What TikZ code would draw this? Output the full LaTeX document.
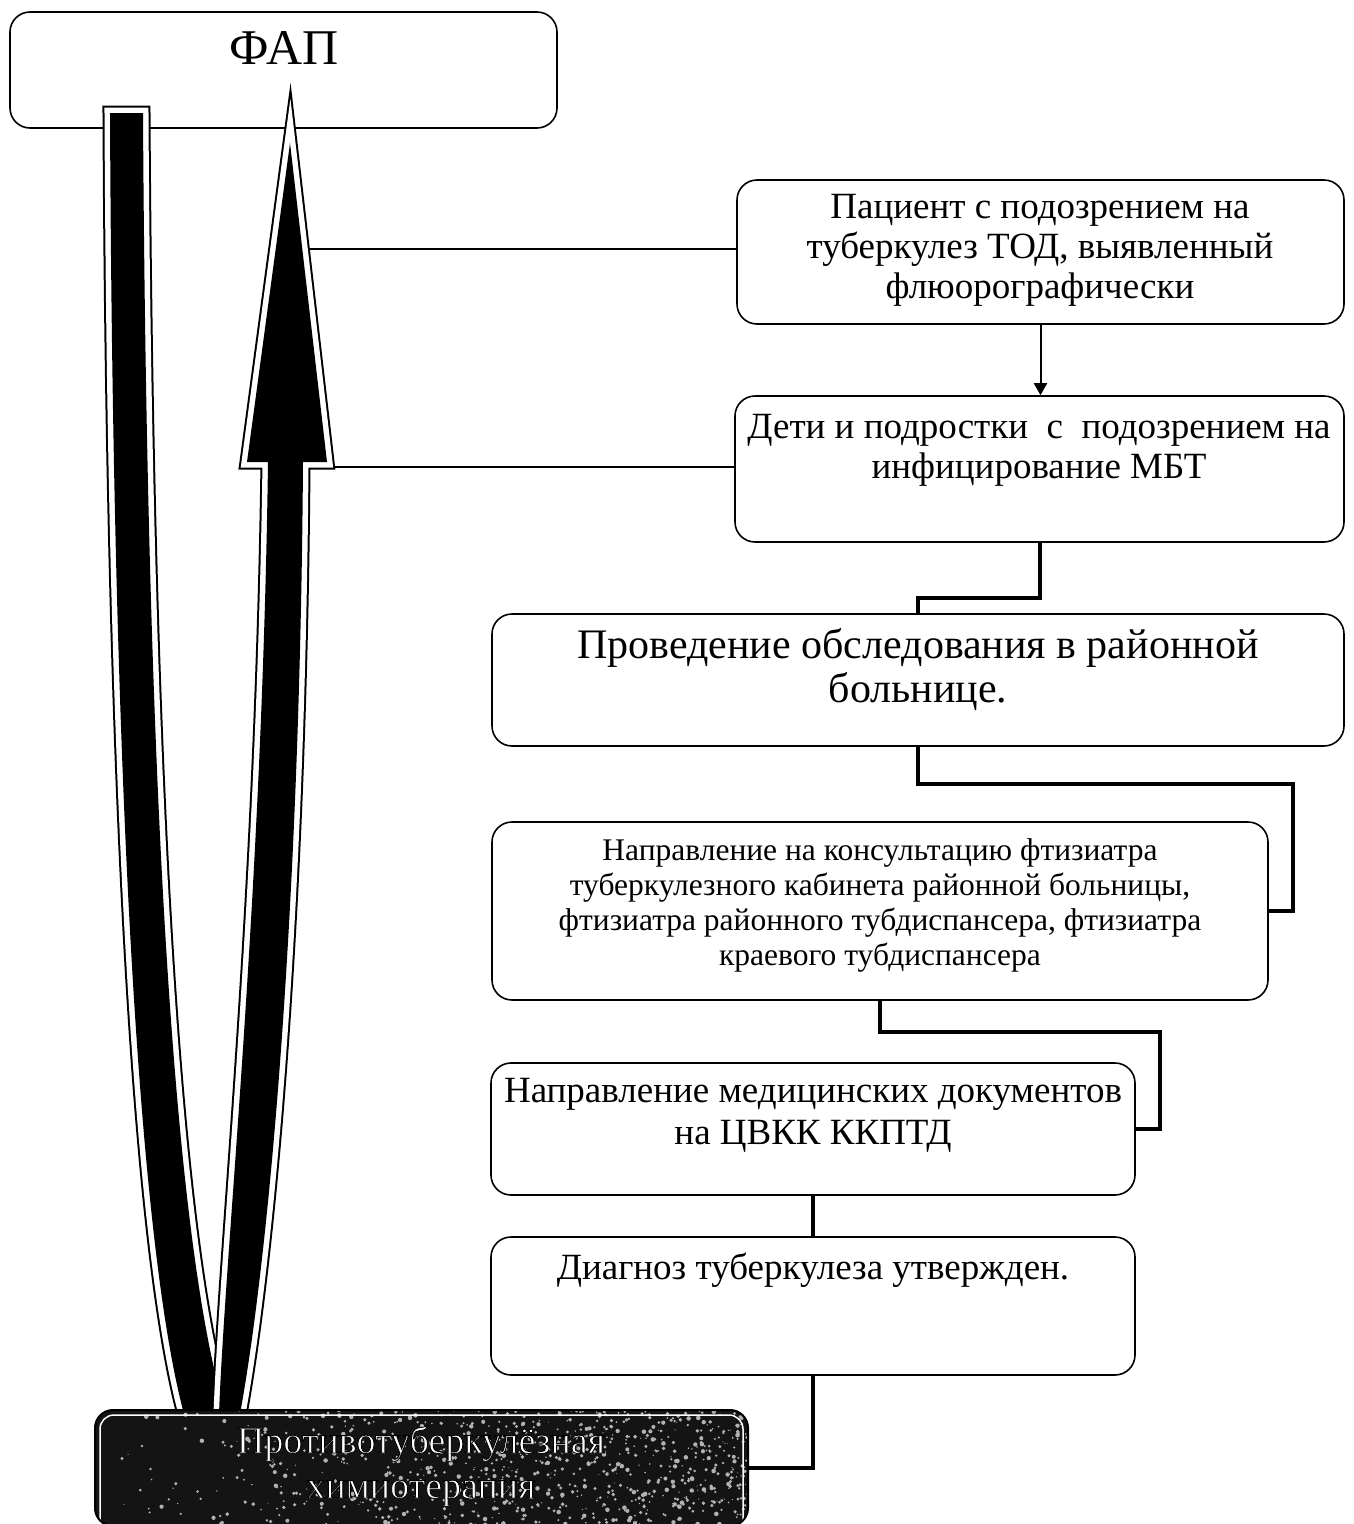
\documentclass[tikz,border=0pt]{standalone}
\usepackage{fontspec}
\setmainfont{Liberation Serif}
\usetikzlibrary{arrows.meta,calc}
\newcommand{\outlinetext}[1]{\special{pdf:literal direct 2 Tr 0.8 w 0 G}#1\special{pdf:literal direct 0 Tr}}
\begin{document}
\begin{tikzpicture}[x=1pt,y=-1pt,
  box/.style={draw, line width=1.6pt, rounded corners=20pt, inner sep=0pt},
  txt/.style={align=center, inner sep=0pt},
  conn/.style={line width=4pt, line join=miter},
  thinconn/.style={line width=2pt},
  armline/.style={line width=15pt, draw=black, line join=miter, miter limit=14},
  armband/.style={line width=11pt, draw=white, line join=miter, miter limit=14},
  armfill/.style={fill=black}]
\useasboundingbox[fill=white] (0,0) rectangle (1354,1524);

% boxes
\node[box, minimum width=547pt, minimum height=116pt] (b1) at (283.5,70) {};
\node[txt, font=\fontsize{50}{56}\selectfont] (t1) at (284,48) {ФАП};

\node[box, minimum width=607pt, minimum height=144pt] (b2) at (1040.5,252) {};
\node[txt, font=\fontsize{37}{40}\selectfont] (t2) at (1040,250) {Пациент с подозрением на\\туберкулез ТОД, выявленный\\флюорографически};

\node[box, minimum width=609pt, minimum height=146pt] (b3) at (1039.5,469) {};
\node[txt, font=\fontsize{37}{40}\selectfont] (t3) at (1039,450) {Дети и подростки\ \ с\ \ подозрением на\\инфицирование МБТ};

\node[box, minimum width=852pt, minimum height=132pt] (b4) at (918,680) {};
\node[txt, font=\fontsize{42}{44}\selectfont] (t4) at (918,670) {Проведение обследования в районной\\больнице.};

\node[box, minimum width=776pt, minimum height=178pt] (b5) at (880,911) {};
\node[txt, font=\fontsize{31.5}{35}\selectfont] (t5) at (880,905) {Направление на консультацию фтизиатра\\туберкулезного кабинета районной больницы,\\фтизиатра районного тубдиспансера, фтизиатра\\краевого тубдиспансера};

\node[box, minimum width=644pt, minimum height=132pt] (b6) at (813,1129) {};
\node[txt, font=\fontsize{37}{42}\selectfont] (t6) at (813,1115) {Направление медицинских документов\\на ЦВКК ККПТД};

\node[box, minimum width=644pt, minimum height=138pt] (b7) at (813,1306) {};
\node[txt, font=\fontsize{37}{42}\selectfont] (t7) at (813,1270) {Диагноз туберкулеза утвержден.};

% connectors between boxes
\draw[thinconn, -{Triangle[width=13pt,length=12pt]}] (b2.south) -- (b2.south |- b3.north);
\draw[conn] (b3.south) -- (b3.south |- 0,598) -| (b4.north);
\draw[conn] (b4.south) -- (b4.south |- 0,784) -- (1293,784) |- (b5.east);
\draw[conn] (b5.south) -- (b5.south |- 0,1032) -- (1160,1032) |- (b6.east);
\draw[conn] (b6.south) -- (b6.south |- b7.north);

% horizontal lines to the arrow
\coordinate (a1) at (300,249);
\coordinate (a2) at (315,467);
\draw[thinconn] (b2.west |- a1) -- (a1);
\draw[thinconn] (b3.west |- a2) -- (a2);

% big U arrow: left arm
\path[save path=\leftarmP] (110,113) -- (143,113)
   .. controls (147,800) and (175,1250) .. (226,1414)
   -- (184,1414)
   .. controls (140,1250) and (113,800) .. (110,113) -- cycle;
\draw[armline, use path=\leftarmP];
\draw[armband, use path=\leftarmP];
\fill[armfill, use path=\leftarmP];

% right arm with arrow head
\path[save path=\rightarmP] (290,143) -- (327,462) -- (303,462)
   .. controls (300,900) and (270,1250) .. (240,1414)
   -- (219,1414)
   .. controls (225,1250) and (262,900) .. (268,462)
   -- (247,462) -- cycle;
\draw[armline, use path=\rightarmP];
\draw[armband, use path=\rightarmP];
\fill[armfill, use path=\rightarmP];

% bottom dark box
\begin{scope}
\clip[rounded corners=18pt] (95,1410) rectangle (748,1526);
\fill[black!92] (95,1410) rectangle (748,1526);
\pgfmathsetseed{42}
\foreach \i in {1,...,900}{
  \pgfmathsetmacro{\px}{95+653*sqrt(rnd)}
  \pgfmathsetmacro{\py}{1410+116*rnd}
  \pgfmathsetmacro{\pr}{0.5+1.8*rnd}
  \fill[white!70!black] (\px,\py) circle[radius=\pr pt];
}
\draw[white, line width=1.5pt, rounded corners=14pt] (100,1415) rectangle (743,1540);
\end{scope}
\node[draw, line width=2pt, rounded corners=18pt, minimum width=653pt, minimum height=116pt, inner sep=0pt] (b8) at (421.5,1468) {};
\node[txt, text=white, font=\fontsize{38}{45}\selectfont] (t8) at (421,1466) {\outlinetext{Противотуберкулёзная\\химиотерапия}};
\draw[conn] (b7.south) |- (b8.east);
\end{tikzpicture}
\end{document}
